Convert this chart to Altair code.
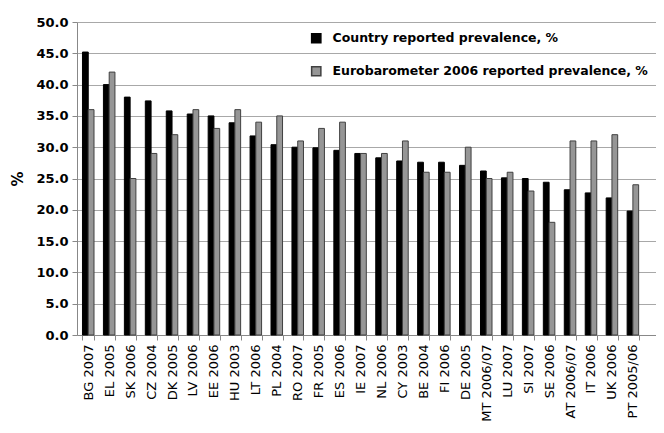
import altair as alt
import pandas as pd

categories = ["BG 2007", "EL 2005", "SK 2006", "CZ 2004", "DK 2005", "LV 2006", "EE 2006",
              "HU 2003", "LT 2006", "PL 2004", "RO 2007", "FR 2005", "ES 2006", "IE 2007",
              "NL 2006", "CY 2003", "BE 2004", "FI 2006", "DE 2005", "MT 2006/07", "LU 2007",
              "SI 2007", "SE 2006", "AT 2006/07", "IT 2006", "UK 2006", "PT 2005/06"]
country = [45.2, 40.0, 38.0, 37.4, 35.8, 35.3, 35.0, 33.9, 31.8, 30.4, 30.0, 29.9, 29.5, 29.0,
           28.3, 27.8, 27.6, 27.6, 27.1, 26.2, 25.1, 25.0, 24.4, 23.2, 22.7, 21.9, 19.8]
euro = [36, 42, 25, 29, 32, 36, 33, 36, 34, 35, 31, 33, 34, 29,
        29, 31, 26, 26, 30, 25, 26, 23, 18, 31, 31, 32, 24]
series = ["Country reported prevalence, %", "Eurobarometer 2006 reported prevalence, %"]
fills = ["#000000", "#969696"]
strokes = ["#000000", "#404040"]
y_ticks = [0, 5, 10, 15, 20, 25, 30, 35, 40, 45, 50]

rows = []
for c, a, b in zip(categories, country, euro):
    rows.append({"category": c, "series": series[0], "value": a})
    rows.append({"category": c, "series": series[1], "value": b})
df = pd.DataFrame(rows)

legend_cfg = dict(title=None, orient="none", legendX=233, legendY=10,
                  symbolType="square", symbolSize=85,
                  labelFont="DejaVu Sans", labelFontWeight="bold",
                  labelFontSize=12.5, labelColor="#000000",
                  labelOffset=10, rowPadding=17, labelLimit=400)

chart = alt.Chart(df).mark_bar(strokeWidth=1).encode(
    x=alt.X("category:N", sort=categories, title=None,
            scale=alt.Scale(paddingInner=0.45, paddingOuter=0.545, align=0.24),
            axis=alt.Axis(labelAngle=-90, tickBand="extent", grid=False,
                          labelFont="DejaVu Sans", labelFontSize=13, labelColor="#000000",
                          labelPadding=4, tickSize=5, tickColor="#888888",
                          domainColor="#888888", labelOverlap=False)),
    xOffset=alt.XOffset("series:N", sort=series,
                        scale=alt.Scale(paddingInner=0, paddingOuter=0)),
    y=alt.Y("value:Q", scale=alt.Scale(domain=[0, 50], nice=False),
            axis=alt.Axis(values=y_ticks, format=".1f", title="%",
                          labelFont="DejaVu Sans", labelFontWeight="bold", labelFontSize=13,
                          labelColor="#000000", labelPadding=4, tickSize=5,
                          tickColor="#888888", domainColor="#888888",
                          gridColor="#a8a8a8", gridWidth=1,
                          titleFont="DejaVu Sans", titleFontWeight="bold", titleFontSize=15,
                          titleColor="#000000", titlePadding=10)),
    color=alt.Color("series:N", sort=series,
                    scale=alt.Scale(domain=series, range=fills),
                    legend=alt.Legend(**legend_cfg)),
    stroke=alt.Stroke("series:N", sort=series,
                      scale=alt.Scale(domain=series, range=strokes),
                      legend=alt.Legend(**legend_cfg)),
).properties(
    width=579, height=313,
    autosize=alt.AutoSizeParams(type="none"),
    padding={"left": 69, "top": 14, "right": 0, "bottom": 90},
    background="#ffffff",
).configure_view(strokeWidth=0)

chart.save("out.html", embed_options={"renderer": "svg", "actions": False})
